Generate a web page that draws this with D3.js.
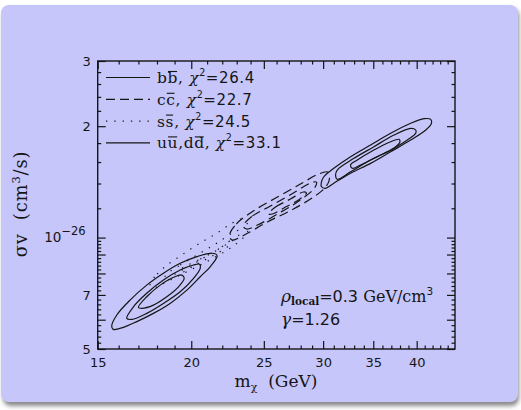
<!DOCTYPE html>
<html><head><meta charset="utf-8">
<script src="https://cdn.jsdelivr.net/npm/d3@7"></script>
<style>body{margin:0;background:#fff}svg{display:block}text{white-space:pre}</style>
</head><body>
<svg id="c" width="521" height="410"></svg>
<script>
// ---------- data ----------
const xDomain = [15, 45];                 // m_chi (GeV)
const yDomain = [5e-27, 3e-26];           // sigma v (cm^3/s)
const xTickValues = [15, 20, 25, 30, 35, 40];
const xTickLabels = ["15", "20", "25", "30", "35", "40"];
const yTickValues = [5e-27, 7e-27, 1e-26, 2e-26, 3e-26];
const yTickLabels = ["5", "7", "10^−26", "2", "3"];
const yUnit = 1e-26;                      // contour values below are in units of 1e-26

// b b-bar (solid, upper right)
const bbOuter  = [[29.82,1.402],[30.06,1.460],[31.00,1.539],[32.64,1.654],[34.71,1.779],[36.92,1.913],[39.27,2.036],[40.91,2.095],[41.76,2.087],[41.86,2.036],[41.13,1.953],[39.27,1.835],[36.92,1.706],[34.71,1.587],[32.64,1.492],[31.00,1.402],[30.22,1.359],[29.85,1.372]];
const bbMiddle = [[31.33,1.522],[32.98,1.637],[35.07,1.760],[37.30,1.893],[39.27,1.973],[39.88,1.953],[39.88,1.913],[38.87,1.835],[36.92,1.724],[34.71,1.620],[32.64,1.506],[31.33,1.437],[31.17,1.476]];
const bbInner  = [[32.64,1.571],[33.32,1.620],[35.07,1.724],[36.92,1.816],[37.88,1.843],[38.00,1.816],[37.30,1.743],[35.44,1.654],[33.66,1.571],[32.81,1.539]];
// c c-bar (dashed)
const ccOuter  = [[22.48,1.010],[22.97,1.088],[24.21,1.180],[26.07,1.287],[27.98,1.395],[29.58,1.485],[30.41,1.504],[30.60,1.448],[30.31,1.378],[29.39,1.303],[27.38,1.194],[25.27,1.102],[23.54,1.016],[22.69,0.985]];
const ccMiddle = [[23.47,1.075],[24.13,1.143],[25.51,1.217],[27.38,1.319],[28.85,1.404],[29.39,1.413],[29.21,1.361],[27.72,1.248],[26.07,1.158],[24.51,1.081],[23.69,1.055]];
const ccInner  = [[25.35,1.158],[25.91,1.209],[27.13,1.271],[28.24,1.328],[28.50,1.319],[27.81,1.263],[26.72,1.209],[25.67,1.158]];
// s s-bar (dotted)
const ssOuter  = [[17.62,0.749],[18.01,0.797],[18.57,0.843],[19.51,0.903],[20.56,0.967],[21.66,1.029],[22.69,1.095],[23.33,1.122],[23.84,1.075],[23.69,1.022],[22.76,0.949],[21.66,0.892],[20.56,0.843],[19.33,0.792],[18.29,0.749],[17.79,0.730]];
const ssMiddle = [[18.46,0.787],[19.33,0.843],[20.56,0.908],[21.66,0.967],[22.69,1.029],[23.25,1.048],[23.11,1.010],[22.21,0.955],[21.20,0.903],[20.12,0.848],[19.03,0.797],[18.51,0.763]];
const ssInner  = [[19.33,0.817],[20.56,0.875],[21.66,0.925],[22.55,0.979],[22.41,0.949],[21.33,0.892],[20.24,0.843],[19.45,0.807]];
// u u-bar, d d-bar (solid, lower left)
const uuOuter  = [[15.66,0.577],[15.90,0.617],[16.57,0.678],[17.44,0.744],[18.36,0.801],[19.33,0.852],[20.35,0.888],[21.20,0.907],[21.60,0.901],[21.65,0.888],[21.20,0.834],[20.56,0.784],[19.73,0.721],[18.74,0.664],[17.80,0.624],[16.92,0.593],[16.23,0.572],[15.73,0.565]];
const uuMiddle = [[16.40,0.605],[16.74,0.650],[17.44,0.707],[18.36,0.768],[19.33,0.817],[20.14,0.843],[20.52,0.847],[20.56,0.826],[20.14,0.776],[19.33,0.714],[18.36,0.664],[17.44,0.624],[16.66,0.601]];
const uuInner  = [[17.00,0.648],[17.44,0.692],[18.18,0.744],[18.94,0.781],[19.43,0.792],[19.57,0.776],[19.23,0.736],[18.55,0.692],[17.80,0.657],[17.18,0.644]];

const seriesNames  = ["bb", "cc", "ss", "uudd"];
const seriesStyle  = ["solid", "dashed", "dotted", "solid"];
const seriesContours = [[bbOuter,bbMiddle,bbInner],[ccOuter,ccMiddle,ccInner],[ssOuter,ssMiddle,ssInner],[uuOuter,uuMiddle,uuInner]];
const legendLabels = ["b{b}, χ^2=26.4", "c{c}, χ^2=22.7", "s{s}, χ^2=24.5", "u{u},d{d}, χ^2=33.1"];

// ---------- layout ----------
const L = 97.7, R = 455, T = 61, B = 349;
const SERIF = "'DejaVu Serif', serif", SANS = "'DejaVu Sans', sans-serif";
const INK = "#151515";
const dashOf = {solid: null, dashed: "9,5", dotted: "1.3,7"};

const svg = d3.select("#c");
const defs = svg.append("defs");
const f = defs.append("filter").attr("id","sh").attr("x","-5%").attr("y","-5%").attr("width","110%").attr("height","115%");
f.append("feGaussianBlur").attr("stdDeviation", 2);

svg.append("rect").attr("x",3).attr("y",8).attr("width",516).attr("height",398).attr("rx",8)
  .attr("fill","#8a8a8a").attr("filter","url(#sh)");
svg.append("rect").attr("x",1).attr("y",5).attr("width",517).attr("height",397).attr("rx",8)
  .attr("fill","#c6c6fa");

const x = d3.scaleLog().domain(xDomain).range([L, R]);
const y = d3.scaleLog().domain(yDomain).range([B, T]);

// ---------- axes ----------
const xMinor = d3.range(xDomain[0], xDomain[1]).filter(v => v % 5 !== 0);
const yMinor = d3.range(26, 50).filter(k => k % 5 !== 0).map(k => k * 0.2e-27)
  .concat(d3.range(6, 15).filter(k => k !== 10).map(k => k * 0.2e-26));
const yMid = [6e-27, 8e-27, 9e-27];

function styleAxis(g) {
  g.select(".domain").remove();
  g.selectAll(".tick line").attr("stroke", INK).attr("stroke-width", 1.2);
  g.selectAll("text").attr("fill", INK).attr("font-family", SANS).attr("font-size", 13);
}
svg.append("g").attr("transform", `translate(0,${B})`)
  .call(d3.axisBottom(x).tickValues(xTickValues).tickFormat((d,i) => xTickLabels[i]).tickSizeInner(-8).tickSizeOuter(0).tickPadding(9)).call(styleAxis);
svg.append("g").attr("transform", `translate(0,${B})`)
  .call(d3.axisBottom(x).tickValues(xMinor).tickFormat("").tickSizeInner(-3.5).tickSizeOuter(0)).call(styleAxis);
svg.append("g").attr("transform", `translate(0,${T})`)
  .call(d3.axisTop(x).tickValues(xTickValues).tickFormat("").tickSizeInner(-8).tickSizeOuter(0)).call(styleAxis);
svg.append("g").attr("transform", `translate(0,${T})`)
  .call(d3.axisTop(x).tickValues(xMinor).tickFormat("").tickSizeInner(-3.5).tickSizeOuter(0)).call(styleAxis);

const yl = svg.append("g").attr("transform", `translate(${L},0)`)
  .call(d3.axisLeft(y).tickValues(yTickValues).tickFormat((d,i) => yTickLabels[i]).tickSizeInner(-8).tickSizeOuter(0).tickPadding(7)).call(styleAxis);
svg.append("g").attr("transform", `translate(${L},0)`)
  .call(d3.axisLeft(y).tickValues(yMid).tickFormat("").tickSizeInner(-8).tickSizeOuter(0)).call(styleAxis);
svg.append("g").attr("transform", `translate(${L},0)`)
  .call(d3.axisLeft(y).tickValues(yMinor).tickFormat("").tickSizeInner(-3.5).tickSizeOuter(0)).call(styleAxis);
svg.append("g").attr("transform", `translate(${R},0)`)
  .call(d3.axisRight(y).tickValues(yTickValues.concat(yMid)).tickFormat("").tickSizeInner(-8).tickSizeOuter(0)).call(styleAxis);
svg.append("g").attr("transform", `translate(${R},0)`)
  .call(d3.axisRight(y).tickValues(yMinor).tickFormat("").tickSizeInner(-3.5).tickSizeOuter(0)).call(styleAxis);

// exponent label
yl.selectAll(".tick text").each(function(d, i) {
  const s = yTickLabels[i];
  if (s.includes("^")) {
    const [base, exp] = s.split("^");
    const t = d3.select(this).text(null).attr("x", -12);
    t.append("tspan").text(base).attr("font-size", 13.5);
    t.append("tspan").text(exp).attr("font-size", 11.5).attr("dy", -7);
  }
});

svg.append("rect").attr("x", L).attr("y", T).attr("width", R - L).attr("height", B - T)
  .attr("fill", "none").attr("stroke", INK).attr("stroke-width", 1.4);

// ---------- contours ----------
const line = d3.line().x(d => x(d[0])).y(d => y(d[1] * yUnit)).curve(d3.curveCatmullRomClosed.alpha(0.5));
seriesContours.forEach((cs, si) => {
  svg.append("g").selectAll("path").data(cs).join("path")
    .attr("d", line).attr("fill", "none").attr("stroke", INK).attr("stroke-width", 1.2)
    .attr("stroke-dasharray", dashOf[seriesStyle[si]]);
});

// ---------- rich text helper ----------
function rich(parent, str, xx, yy, size, numSize) {
  const t = parent.append("text").attr("x", xx).attr("y", yy).attr("fill", INK).attr("font-size", size)
    .attr("letter-spacing", 0.6);
  const over = [];
  let idx = 0, lift = 0, inOver = false, overStart = 0;
  for (let k = 0; k < str.length; k++) {
    let ch = str[k];
    if (ch === "{") { inOver = true; overStart = idx; continue; }
    if (ch === "}") { inOver = false; over.push([overStart, idx - 1]); continue; }
    let sup = false;
    if (ch === "^") { sup = true; ch = str[++k]; }
    const sp = t.append("tspan").text(ch);
    const isNum = /[0-9=.]/.test(ch);
    sp.attr("font-family", isNum ? SANS : SERIF);
    if (isNum) sp.attr("font-size", numSize);
    if (ch === "χ") sp.attr("font-style", "italic");
    if (sup) { sp.attr("font-size", size * 0.62).attr("dy", -7); lift = 7; }
    else if (lift) { sp.attr("dy", lift); lift = 0; }
    idx += ch.length;
  }
  const node = t.node();
  over.forEach(([a, b]) => {
    const x1 = node.getStartPositionOfChar(a).x, x2 = node.getEndPositionOfChar(b).x;
    parent.append("line").attr("x1", x1 + 0.5).attr("x2", x2 - 1).attr("y1", yy - 11.5).attr("y2", yy - 11.5)
      .attr("stroke", INK).attr("stroke-width", 1.1);
  });
  return t;
}

// ---------- legend ----------
const lg = svg.append("g");
legendLabels.forEach((lab, i) => {
  const yy = 77.5 + i * 21.8;
  lg.append("line").attr("x1", 106).attr("x2", 150).attr("y1", yy).attr("y2", yy)
    .attr("stroke", INK).attr("stroke-width", 1.2).attr("stroke-dasharray", dashOf[seriesStyle[i]]);
  rich(lg, lab, 157, yy + 5.5, 15.5, 15);
});

// ---------- annotation ----------
const a1 = svg.append("text").attr("x", 281).attr("y", 301.5).attr("fill", INK).attr("font-size", 16);
a1.append("tspan").text("ρ").attr("font-family", SERIF).attr("font-style", "italic").attr("font-size", 17);
a1.append("tspan").text("local").attr("font-family", SERIF).attr("font-weight", "bold").attr("font-size", 10.5).attr("dy", 3);
a1.append("tspan").text("=0.3").attr("font-family", SANS).attr("dy", -3);
a1.append("tspan").text(" GeV/cm").attr("font-family", SERIF);
a1.append("tspan").text("3").attr("font-family", SANS).attr("font-size", 10.5).attr("dy", -7);
const a2 = svg.append("text").attr("x", 281).attr("y", 325).attr("fill", INK).attr("font-size", 16);
a2.append("tspan").text("γ").attr("font-family", SERIF).attr("font-style", "italic").attr("font-size", 17);
a2.append("tspan").text("=1.26").attr("font-family", SANS);

// ---------- axis titles ----------
const xt = svg.append("text").attr("x", 276).attr("y", 387).attr("text-anchor", "middle").attr("fill", INK).attr("font-size", 17).attr("font-family", SERIF);
xt.append("tspan").text("m");
xt.append("tspan").text("χ").attr("font-size", 11).attr("dy", 4);
xt.append("tspan").text("  (GeV)").attr("dy", -4);

const yt = svg.append("text").attr("transform", "translate(27,204) rotate(-90)").attr("text-anchor", "middle")
  .attr("fill", INK).attr("font-size", 18).attr("font-family", SERIF).attr("letter-spacing", 0.8);
yt.append("tspan").text("σv  (cm");
yt.append("tspan").text("3").attr("font-size", 11.5).attr("dy", -7);
yt.append("tspan").text("/s)").attr("dy", 7);
</script>
</body></html>
